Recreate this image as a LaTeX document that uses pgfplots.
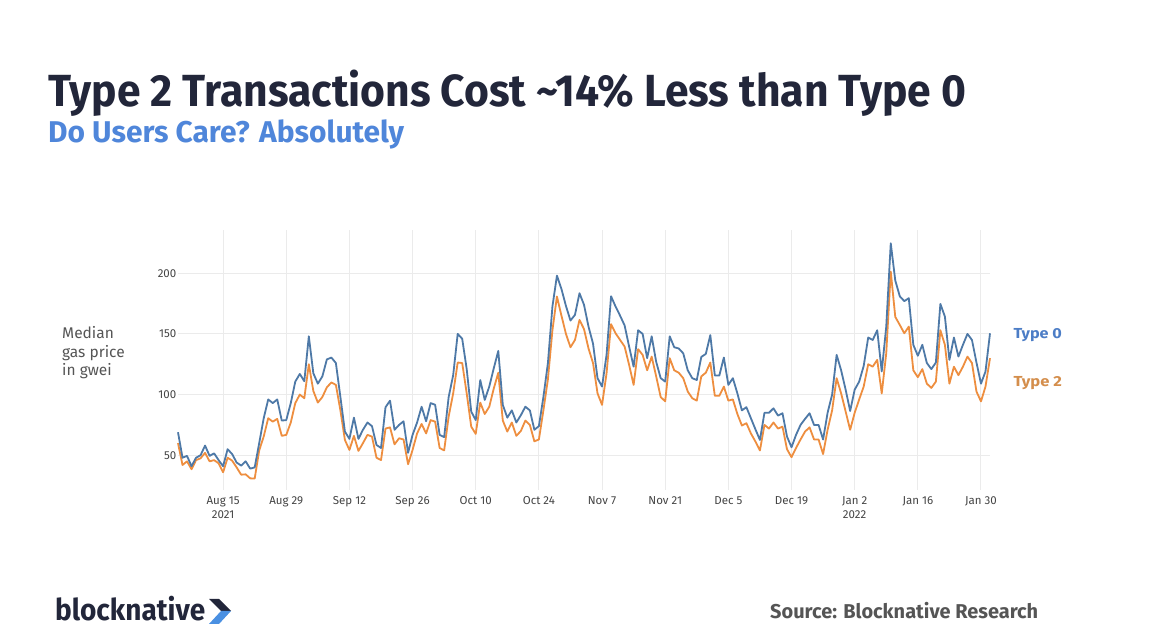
\documentclass[border=0pt]{standalone}
\usepackage{fontspec}
\setmainfont{Fira Sans}
\usepackage{graphicx}
\usepackage{pgfplots}
\pgfplotsset{compat=1.18}
\usepackage{pgfplotstable}

\definecolor{navy}{HTML}{22263A}
\definecolor{subblue}{HTML}{4F86DA}
\definecolor{lineblue}{HTML}{4E79A7}
\definecolor{lineorange}{HTML}{EE8E3F}
\definecolor{lblblue}{HTML}{4C7DC6}
\definecolor{lblorange}{HTML}{D48E4C}
\definecolor{txtgray}{HTML}{444444}
\definecolor{srcgray}{HTML}{555555}
\definecolor{gridgray}{HTML}{EBEBEB}
\definecolor{logoblue}{HTML}{4A90E2}

\newsavebox\fitbox
\newcommand\fitw[2]{\sbox\fitbox{#2}\pgfmathsetmacro\fitr{#1/\the\wd\fitbox}\scalebox{\fitr}[1]{\usebox\fitbox}}

\pgfplotstableread{
d t0 t2
-10 69 60
-9 48 42
-8 49.5 45
-7 41 38.5
-6 48 46
-5 50 47.5
-4 58 52
-3 49.5 45
-2 51.6 46
-1 46 43.4
0 41 36
1 55 48
2 51 45.6
3 44 40
4 41.5 34
5 45 34.3
6 39 31
7 40 30.8
8 60 54
9 80.5 65.5
10 96 80.5
11 93 77.7
12 96 80
13 78.6 66
14 79 66.8
15 93 77
16 110.7 93
17 117 100
18 111 97
19 148 125
20 117.6 103
21 109 93.4
22 115 98
23 129 106
24 130.5 110
25 126 108
26 98 87
27 69.5 62.6
28 63.5 54.4
29 81 66
30 63.5 53.6
31 71 60
32 77 66.8
33 74 65.4
34 58.5 48
35 56 46
36 89.6 72
37 95 73
38 71 59
39 75 64
40 78 63
41 52 42.6
42 66.8 54.4
43 77 68
44 90 75.8
45 78 68
46 93 79
47 91.6 77.7
48 66.8 56
49 65 54
50 98 82
51 116 101
52 150 126.4
53 146 126
54 121 101
55 86 73.6
56 79 67.6
57 112 93.4
58 95.6 84
59 106.6 90
60 121.7 105
61 136 118
62 91.5 78.6
63 81 69.5
64 87 77
65 77 66
66 83 70
67 90 78.6
68 87 75
69 71 61.5
70 74 63
71 98 87
72 126 112.6
73 172.5 153
74 198 180.8
75 187 165
76 173 150
77 161 139
78 165.7 145
79 183.5 161.5
80 174 154
81 156 138
82 142 126
83 113.5 101
84 106.6 91.5
85 132.7 117.6
86 181 158
87 172.5 150.5
88 165 145
89 157 139.6
90 139.6 124.5
91 123 108
92 153 137.4
93 150 132.7
94 130 120
95 148 131.3
96 127 115
97 113.5 98
98 110.7 94.4
99 148 130
100 139 120
101 138 118
102 134 113.5
103 120 102.5
104 113.5 97
105 112 95
106 131 115
107 133.5 118
108 149 126.4
109 115.7 99
110 115.7 99
111 130.5 106.6
112 108 95
113 113.5 96
114 101 84
115 87 74.5
116 89.6 76.4
117 80.5 68
118 71.4 61.3
119 62.6 54
120 85 75
121 85 72
122 88.7 77
123 82.7 72
124 84.6 73.6
125 65.4 55
126 56.6 48.4
127 66.8 56
128 75 63
129 80 69.5
130 84.6 73
131 75 63
132 75 63
133 63 51
134 85 71
135 100 87
136 132.7 113.5
137 120 101
138 104 86
139 86.5 71
140 104 85
141 110.7 96
142 123.6 106.6
143 147 125
144 145 123
145 153 128.6
146 119 101
147 156 134
148 224.7 201.4
149 194 164
150 181 157.4
151 177 150.5
152 179.4 156
153 141 120
154 132 114.3
155 141 121
156 126 109
157 121 105.5
158 126.4 110.7
159 174.7 153
160 164.3 141
161 128.6 109
162 147 123
163 131.3 116
164 141 123
165 150 131.3
166 145 126
167 126.4 102.5
168 109 94.4
169 119 106.6
170 150.5 130
}\gasdata

\begin{document}
\begin{tikzpicture}[x=1pt,y=1pt]
\path[use as bounding box, fill=white] (0,0) rectangle (1152,644);

% title and subtitle
\node[anchor=base west, inner sep=0pt, text=navy] at (48,537)
  {\fitw{918}{\fontsize{45}{50}\selectfont\bfseries Type 2 Transactions Cost \textasciitilde14\% Less than Type 0}};
\node[anchor=base west, inner sep=0pt, text=subblue] at (48,501)
  {\fitw{356}{\fontsize{30}{34}\selectfont\bfseries Do Users Care? Absolutely}};

% y axis title
\node[anchor=base west, inner sep=0pt, text=srcgray, font=\fontsize{15.5}{18}\selectfont] at (62,305) {Median};
\node[anchor=base west, inner sep=0pt, text=srcgray, font=\fontsize{15.5}{18}\selectfont] at (62,286.3) {gas price};
\node[anchor=base west, inner sep=0pt, text=srcgray, font=\fontsize{15.5}{18}\selectfont] at (62,268.3) {in gwei};

\begin{axis}[
  at={(178pt,154pt)}, anchor=south west,
  scale only axis, width=812pt, height=260pt,
  xmin=-10, xmax=170, ymin=21.4, ymax=235.6,
  axis line style={draw=none},
  major tick length=0pt,
  grid=major,
  major grid style={color=gridgray, line width=1pt},
  xtick={0,14,28,42,56,70,84,98,112,126,140,154,168},
  xticklabels={{Aug 15\\2021},{Aug 29},{Sep 12},{Sep 26},{Oct 10},{Oct 24},{Nov 7},{Nov 21},{Dec 5},{Dec 19},{Jan 2\\2022},{Jan 16},{Jan 30}},
  xticklabel style={align=center, inner sep=0pt, yshift=-6.5pt, text=txtgray, font=\fontsize{11.5}{14.3}\selectfont},
  ytick={50,100,150,200},
  yticklabel style={inner sep=0pt, xshift=-1.5pt, text=txtgray, font=\fontsize{11.5}{14}\selectfont},
  /pgf/number format/assume math mode=true,
  clip=false,
]
\addplot[lineorange, line width=1.8pt, line join=round, mark=none] table[x=d,y=t2]{\gasdata};
\addplot[lineblue, line width=1.8pt, line join=round, mark=none] table[x=d,y=t0]{\gasdata};
\end{axis}

% series labels
\node[anchor=base west, inner sep=0pt, text=lblblue] at (1013.3,305.7)
  {\fitw{48.4}{\fontsize{14.5}{17}\selectfont\bfseries Type 0}};
\node[anchor=base west, inner sep=0pt, text=lblorange] at (1013.3,257.3)
  {\fitw{48.4}{\fontsize{14.5}{17}\selectfont\bfseries Type 2}};

% logo
\node[anchor=base west, inner sep=0pt, text=navy] at (55,23)
  {\fitw{150}{\fontsize{30}{34}\selectfont\bfseries blocknative}};
\fill[navy] (209,45) -- (219,45) -- (231,33) -- (221,33) -- cycle;
\fill[logoblue] (221,33) -- (231,33) -- (219,20) -- (209,20) -- cycle;

% source
\node[anchor=base west, inner sep=0pt, text=srcgray] at (770,25)
  {\fitw{268}{\fontsize{20}{24}\selectfont\bfseries Source: Blocknative Research}};
\end{tikzpicture}
\end{document}
